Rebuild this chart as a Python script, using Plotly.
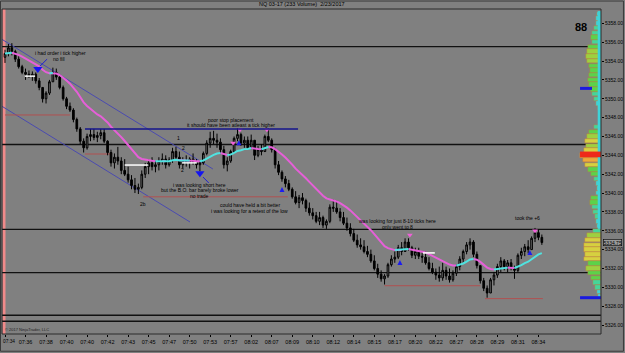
import plotly.graph_objects as go

# ---------------- data ----------------
highs = [5355.2, 5355.8, 5355.9, 5355.2, 5354.5, 5353.6, 5353.2, 5353.0, 5352.9, 5352.8,
         5352.2, 5351.0, 5350.8, 5352.0, 5353.3, 5353.2, 5352.6, 5351.4, 5350.2, 5349.6,
         5349.0, 5348.0, 5347.0, 5345.8, 5346.3, 5346.8, 5346.8, 5346.5, 5346.8, 5346.8,
         5345.6, 5344.6, 5344.2, 5344.9, 5343.8, 5343.6, 5342.8, 5341.9, 5341.6, 5341.0,
         5342.4, 5343.2, 5343.6, 5343.8, 5343.4, 5343.8, 5344.2, 5344.0, 5343.8, 5344.8,
         5344.9, 5344.4, 5343.8, 5344.0, 5343.8, 5344.2, 5343.6, 5343.4, 5344.4, 5345.6,
         5346.5, 5346.6, 5346.3, 5345.8, 5345.0, 5343.8, 5344.6, 5346.0, 5346.9, 5346.4,
         5346.0, 5346.0, 5346.2, 5345.4, 5345.0, 5345.2, 5346.2, 5346.9, 5345.8, 5344.8,
         5343.4, 5342.4, 5341.8, 5341.4, 5340.6, 5340.2, 5339.8, 5340.0, 5339.4, 5339.0,
         5338.4, 5338.0, 5338.0, 5337.6, 5337.2, 5338.8, 5339.3, 5339.2, 5338.4, 5338.0,
         5337.4, 5336.8, 5336.2, 5335.6, 5335.2, 5335.0, 5334.4, 5334.0, 5333.4, 5332.5,
         5331.8, 5331.4, 5332.6, 5333.4, 5333.8, 5334.5, 5334.8, 5335.2, 5335.2, 5334.4,
         5334.2, 5334.2, 5333.8, 5333.8, 5333.2, 5332.6, 5332.0, 5332.2, 5332.6, 5332.2,
         5332.0, 5331.8, 5332.4, 5333.3, 5334.0, 5334.8, 5335.2, 5335.0, 5333.8, 5332.2,
         5331.0, 5330.2, 5331.0, 5331.6, 5332.5, 5333.2, 5333.0, 5332.9, 5333.0, 5332.3,
         5333.6, 5334.2, 5334.6, 5335.0, 5335.4, 5336.3, 5336.1, 5335.6]
lows = [5353.8, 5354.5, 5354.6, 5353.9, 5353.2, 5352.6, 5352.0, 5352.2, 5351.9, 5351.6,
        5350.9, 5349.6, 5349.5, 5350.4, 5351.8, 5352.0, 5351.0, 5349.8, 5348.9, 5348.6,
        5347.5, 5346.5, 5345.2, 5344.3, 5344.6, 5345.5, 5345.6, 5345.4, 5345.7, 5345.3,
        5344.0, 5342.8, 5342.6, 5343.0, 5342.0, 5341.8, 5341.1, 5340.4, 5340.0, 5339.9,
        5340.4, 5341.6, 5342.0, 5342.4, 5342.2, 5342.4, 5343.0, 5342.6, 5342.8, 5343.2,
        5343.4, 5342.6, 5342.6, 5342.8, 5342.6, 5343.0, 5342.6, 5342.3, 5343.0, 5344.0,
        5344.8, 5345.2, 5344.8, 5344.2, 5342.6, 5342.3, 5343.2, 5344.2, 5345.5, 5345.0,
        5344.8, 5344.6, 5344.8, 5343.5, 5343.8, 5344.0, 5344.6, 5345.4, 5344.3, 5342.6,
        5341.9, 5341.2, 5340.6, 5340.2, 5339.4, 5338.8, 5338.4, 5338.8, 5338.0, 5337.6,
        5337.2, 5336.8, 5336.6, 5336.3, 5336.2, 5336.8, 5338.0, 5337.8, 5337.0, 5336.6,
        5336.0, 5335.4, 5334.8, 5334.2, 5334.0, 5333.6, 5333.2, 5332.6, 5331.8, 5331.0,
        5330.6, 5330.3, 5331.0, 5332.2, 5332.6, 5333.0, 5333.4, 5333.8, 5333.9, 5333.1,
        5333.0, 5333.0, 5332.6, 5332.4, 5331.8, 5331.4, 5330.8, 5330.6, 5330.7, 5330.8,
        5330.5, 5330.6, 5331.2, 5331.8, 5332.6, 5333.5, 5334.0, 5333.2, 5332.0, 5330.4,
        5329.6, 5328.9, 5329.4, 5330.2, 5331.0, 5331.6, 5331.8, 5331.6, 5331.8, 5330.9,
        5331.6, 5333.0, 5333.3, 5333.6, 5334.0, 5334.8, 5335.0, 5334.5]
closes = [5354.8, 5355.4, 5355.0, 5354.2, 5353.4, 5352.8, 5352.6, 5352.4, 5352.6, 5351.9,
          5351.2, 5350.0, 5350.6, 5351.8, 5352.8, 5352.3, 5351.2, 5350.0, 5349.2, 5348.8,
          5347.8, 5346.8, 5345.5, 5344.8, 5346.0, 5346.2, 5345.9, 5346.1, 5346.4, 5345.5,
          5344.3, 5343.2, 5343.8, 5343.4, 5342.4, 5342.0, 5341.4, 5340.8, 5340.4, 5340.6,
          5342.0, 5342.8, 5343.2, 5342.8, 5343.0, 5343.4, 5343.6, 5343.0, 5343.5, 5344.4,
          5343.8, 5343.0, 5343.5, 5343.2, 5343.6, 5343.2, 5343.0, 5343.2, 5344.2, 5345.3,
          5345.8, 5345.6, 5345.4, 5344.6, 5343.0, 5343.4, 5344.4, 5345.8, 5346.2, 5345.3,
          5345.6, 5344.8, 5345.6, 5344.0, 5344.6, 5344.4, 5346.0, 5345.6, 5344.6, 5343.0,
          5342.2, 5341.5, 5341.0, 5340.4, 5339.6, 5339.0, 5339.5, 5339.2, 5338.4, 5337.9,
          5337.6, 5337.0, 5337.4, 5336.6, 5337.0, 5338.5, 5338.4, 5338.0, 5337.4, 5336.8,
          5336.3, 5335.7, 5335.0, 5334.5, 5334.3, 5333.8, 5333.5, 5332.8, 5332.0, 5331.4,
          5330.9, 5331.2, 5332.4, 5333.0, 5333.2, 5334.2, 5333.8, 5334.8, 5334.2, 5333.4,
          5333.8, 5333.3, 5333.2, 5332.6, 5332.0, 5331.6, 5331.3, 5331.0, 5331.8, 5331.2,
          5330.8, 5331.5, 5332.2, 5333.0, 5333.8, 5334.5, 5334.8, 5333.5, 5332.3, 5330.7,
          5329.9, 5329.4, 5330.8, 5331.3, 5332.2, 5332.8, 5332.2, 5332.6, 5332.0, 5331.8,
          5333.4, 5333.8, 5334.3, 5334.0, 5335.2, 5335.8, 5335.3, 5334.75]
first_open = 5354.4

time_labels = ["07:34", "07:36", "07:38", "07:40", "07:40", "07:42", "07:43", "07:45", "07:47",
               "07:50", "07:53", "07:57", "08:02", "08:07", "08:09", "08:10", "08:12", "08:14",
               "08:15", "08:17", "08:20", "08:22", "08:27", "08:28", "08:29", "08:31", "08:34"]
bars_per_label = 6
price_ticks = list(range(5326, 5360, 2))
last_price = 5334.75

profile_prices = [5359.0, 5358.5, 5358.0, 5357.5, 5357.0, 5356.5, 5356.0, 5355.5, 5355.0, 5354.5,
                  5354.0, 5353.5, 5353.0, 5352.5, 5352.0, 5351.5, 5351.0, 5350.5, 5350.0, 5349.5,
                  5349.0, 5348.5, 5348.0, 5347.5, 5347.0, 5346.5, 5346.0, 5345.5, 5345.0, 5344.5,
                  5344.0, 5343.5, 5343.0, 5342.5, 5342.0, 5341.5, 5341.0, 5340.5, 5340.0, 5339.5,
                  5339.0, 5338.5, 5338.0, 5337.5, 5337.0, 5336.5, 5336.0, 5335.5, 5335.0, 5334.5,
                  5334.0, 5333.5, 5333.0, 5332.5, 5332.0, 5331.5, 5331.0, 5330.5, 5330.0, 5329.5,
                  5329.0]
profile_volume = [4, 5, 5, 7, 9, 10, 9, 13, 14, 15,
                  14, 12, 11, 12, 13, 12, 10, 9, 7, 5,
                  3, 2, 2, 2, 7, 12, 14, 16, 15, 17,
                  21, 18, 16, 13, 10, 7, 5, 4, 5, 10,
                  11, 9, 8, 6, 5, 4, 8, 14, 16, 17,
                  17, 16, 17, 13, 15, 13, 10, 8, 6, 4,
                  3]
poc_price = 5344.1
profile_markers = [5351.1, 5328.9]

black_levels = [5355.54, 5345.15, 5336.15, 5331.57, 5327.04, 5326.40]
red_levels = [(0, 19, 5348.28), (23.4, 31.3, 5344.14), (40.4, 82.7, 5339.6),
              (111, 139, 5330.17), (140.4, 157.3, 5328.8)]
white_levels = [(5.8, 8.8, 5352.4), (35, 41.8, 5342.97), (51.8, 56.1, 5343.2), (122.2, 125.7, 5333.65)]
stop_line = (23.4, 85.7, 5346.8)
channels = [((-0.88, 5356.3), (60.8, 5342.55)), ((-0.88, 5349.2), (54.1, 5336.93))]
pointer_lines = [((12.3, 5354.2), (10.2, 5353.45)), ((57.9, 5341.7), (59.6, 5341.07))]

entry_x = [9.6, 57.0]
entry_y = [5353.15, 5342.1]
up_x = [68.4, 81.0, 115.5, 153.5]
up_y = [5345.6, 5340.65, 5332.9, 5333.97]
pk_x = [66.7, 68.7, 76.6, 118.4, 155.0]
pk_y = [5345.3, 5346.7, 5346.7, 5335.55, 5336.0]

notes = [(16.1, 5354.85, "i had order i tick higher"), (15.7, 5354.25, "no fill"),
         (66.0, 5347.8, "poor stop placement"), (66.0, 5347.2, "it should have been atleast a tick higher"),
         (50.6, 5345.85, "1"), (52.3, 5344.8, "2"), (51.8, 5342.45, "2"), (40.4, 5338.85, "2b"),
         (57.0, 5340.86, "i was looking short here"), (57.0, 5340.3, "but the B.O. bar barely broke lower"),
         (57.0, 5339.72, "no trade"),
         (71.6, 5338.73, "could have held a bit better"), (71.6, 5338.13, "i was looking for a retest of the low"),
         (114.9, 5337.05, "was looking for just 8-10 ticks here"), (114.9, 5336.43, "only went to 8"),
         (152.9, 5337.35, "took the +6")]
ema_period = 18

# ---------------- build ----------------
n = len(closes)
idx = list(range(n))
opens = [first_open] + closes[:-1]
hi = [max(h, o, c) for h, o, c in zip(highs, opens, closes)]
lo = [min(l, o, c) for l, o, c in zip(lows, opens, closes)]

alpha = 2 / (ema_period + 1)
ema = [closes[0]]
for c in closes[1:]:
    ema.append(ema[-1] + alpha * (c - ema[-1]))
pink = [None] * n
cyan = [None] * n
for i in range(1, n):
    tgt = cyan if ema[i] > ema[i - 1] else pink
    tgt[i - 1] = ema[i - 1]
    tgt[i] = ema[i]

FONT = "Liberation Sans, Arial, sans-serif"
fig = go.Figure()


def vcol(v):
    if v <= 5:
        return "#3fd3d8"
    if v <= 9:
        return "#45d59a"
    if v <= 13:
        return "#5cd24a"
    if v <= 15:
        return "#9ed040"
    if v <= 17:
        return "#d6d040"
    return "#eeaa3a"


fig.add_trace(go.Bar(x=profile_volume, y=profile_prices, orientation="h", xaxis="x2", yaxis="y",
                     width=0.48, marker=dict(color=[vcol(v) for v in profile_volume],
                                             line=dict(color="#c87a3a", width=0.4)),
                     hoverinfo="skip", showlegend=False))

fig.add_trace(go.Candlestick(x=idx, open=opens, high=hi, low=lo, close=closes,
                             increasing=dict(line=dict(color="#000000", width=1), fillcolor="#6e6e6e"),
                             decreasing=dict(line=dict(color="#000000", width=1), fillcolor="#000000"),
                             whiskerwidth=0, showlegend=False, hoverinfo="skip"))

fig.add_trace(go.Scatter(x=idx, y=pink, mode="lines", line=dict(color="#e65fd8", width=2),
                         connectgaps=False, showlegend=False, hoverinfo="skip"))
fig.add_trace(go.Scatter(x=idx, y=cyan, mode="lines", line=dict(color="#4fe3e0", width=2),
                         connectgaps=False, showlegend=False, hoverinfo="skip"))

fig.add_trace(go.Scatter(x=entry_x, y=entry_y, mode="markers",
                         marker=dict(symbol="triangle-down", size=8, color="#1414f0"),
                         showlegend=False, hoverinfo="skip"))
fig.add_trace(go.Scatter(x=up_x, y=up_y, mode="markers",
                         marker=dict(symbol="arrow-up", size=5, color="#1c1cf0"),
                         showlegend=False, hoverinfo="skip"))
fig.add_trace(go.Scatter(x=pk_x, y=pk_y, mode="markers",
                         marker=dict(symbol="triangle-down", size=5, color="#f060d8"),
                         showlegend=False, hoverinfo="skip"))

shapes = []
shapes.append(dict(type="line", xref="x", yref="paper", x0=-0.3, x1=-0.3, y0=0, y1=1,
                   line=dict(color="#f08a8a", width=3), layer="below"))
for lv in black_levels:
    shapes.append(dict(type="line", xref="paper", yref="y", x0=0, x1=1, y0=lv, y1=lv,
                       line=dict(color="#111111", width=1.3), layer="below"))
for (a, b), (c, d) in channels:
    shapes.append(dict(type="line", xref="x", yref="y", x0=a, y0=b, x1=c, y1=d,
                       line=dict(color="#4a4ab0", width=1), layer="below"))
for x0, x1, lv in red_levels:
    shapes.append(dict(type="line", xref="x", yref="y", x0=x0, x1=x1, y0=lv, y1=lv,
                       line=dict(color="#b05050", width=1), layer="below"))
shapes.append(dict(type="line", xref="x", yref="y", x0=stop_line[0], x1=stop_line[1],
                   y0=stop_line[2], y1=stop_line[2], line=dict(color="#14148c", width=1.5)))
for x0, x1, lv in white_levels:
    shapes.append(dict(type="line", xref="x", yref="y", x0=x0, x1=x1, y0=lv, y1=lv,
                       line=dict(color="#ffffff", width=1.5)))
for (a, b), (c, d) in pointer_lines:
    shapes.append(dict(type="line", xref="x", yref="y", x0=a, y0=b, x1=c, y1=d,
                       line=dict(color="#2020d0", width=1)))
shapes.append(dict(type="rect", xref="paper", yref="y", x0=0.9945, x1=1.0, y0=5336.2, y1=5359.3,
                   fillcolor="#3fd3d8", line=dict(width=0)))
shapes.append(dict(type="rect", xref="paper", yref="y", x0=0.965, x1=1.0, y0=poc_price - 0.3,
                   y1=poc_price + 0.3, fillcolor="#ee2a1a", line=dict(width=0)))
shapes.append(dict(type="line", xref="paper", yref="y", x0=0.965, x1=0.985, y0=profile_markers[0],
                   y1=profile_markers[0], line=dict(color="#1a1ae0", width=3)))
shapes.append(dict(type="line", xref="paper", yref="y", x0=0.965, x1=1.0, y0=profile_markers[1],
                   y1=profile_markers[1], line=dict(color="#1a1ae0", width=3)))
shapes.append(dict(type="rect", xref="paper", yref="paper", x0=0, x1=1, y0=0, y1=1,
                   line=dict(color="#2a2a2a", width=1)))
shapes.append(dict(type="rect", xref="paper", yref="paper", x0=-0.0025, x1=1.0375, y0=-0.053, y1=1.0245,
                   line=dict(color="#3a3a3a", width=1)))

annotations = []
for x, y, t in notes:
    annotations.append(dict(x=x, y=y, xref="x", yref="y", text=t, showarrow=False,
                            font=dict(family=FONT, size=5, color="#000000")))
annotations.append(dict(x=0.5, y=1.0, xref="paper", yref="paper", yanchor="bottom",
                        text="NQ 03-17 (233 Volume)  2/23/2017", showarrow=False,
                        font=dict(family=FONT, size=5.5, color="#000000")))
annotations.append(dict(x=0.98, y=0.969, xref="paper", yref="paper", text="<b>88</b>", showarrow=False,
                        font=dict(family=FONT, size=11, color="#000000")))
annotations.append(dict(x=0.002, y=0.0, xref="paper", yref="paper", xanchor="left", yanchor="bottom",
                        text="© 2017 NinjaTrader, LLC", showarrow=False,
                        font=dict(family=FONT, size=4, color="#202020")))
annotations.append(dict(x=1.004, y=last_price, xref="paper", yref="y", xanchor="left",
                        text=f"{last_price:.2f}", showarrow=False, bgcolor="#9a9a9a",
                        bordercolor="#000000", borderwidth=0.6, borderpad=0,
                        font=dict(family=FONT, size=5, color="#000000")))
# first time label sits on the left edge; keep it fully inside the page
annotations.append(dict(x=0, y=0, xref="paper", yref="paper", xanchor="left", yanchor="top", yshift=-3,
                        xshift=-1, text=time_labels[0], showarrow=False,
                        font=dict(family=FONT, size=4.8, color="#000000")))

fig.update_layout(
    width=625, height=353, margin=dict(l=2, r=24, t=9, b=19),
    paper_bgcolor="#808080", plot_bgcolor="#808080",
    shapes=shapes, annotations=annotations, showlegend=False, bargap=0,
    xaxis=dict(range=[-0.88, 174.3], rangeslider=dict(visible=False), showgrid=False, zeroline=False,
               tickvals=[i * bars_per_label for i in range(len(time_labels))], ticktext=time_labels,
               ticks="outside", ticklen=2, tickcolor="#000000",
               tickfont=dict(family=FONT, size=5.5, color="#000000"), showline=False),
    xaxis2=dict(range=[599, 0], overlaying="x", visible=False, showgrid=False, zeroline=False),
    yaxis=dict(range=[5325.05, 5359.52], side="right", showgrid=False, zeroline=False,
               tickvals=price_ticks, ticktext=[f"{p:.2f}" for p in price_ticks],
               ticks="outside", ticklen=2, tickcolor="#000000",
               tickfont=dict(family=FONT, size=5, color="#000000"), showline=False),
)

fig.write_html("out.html")
